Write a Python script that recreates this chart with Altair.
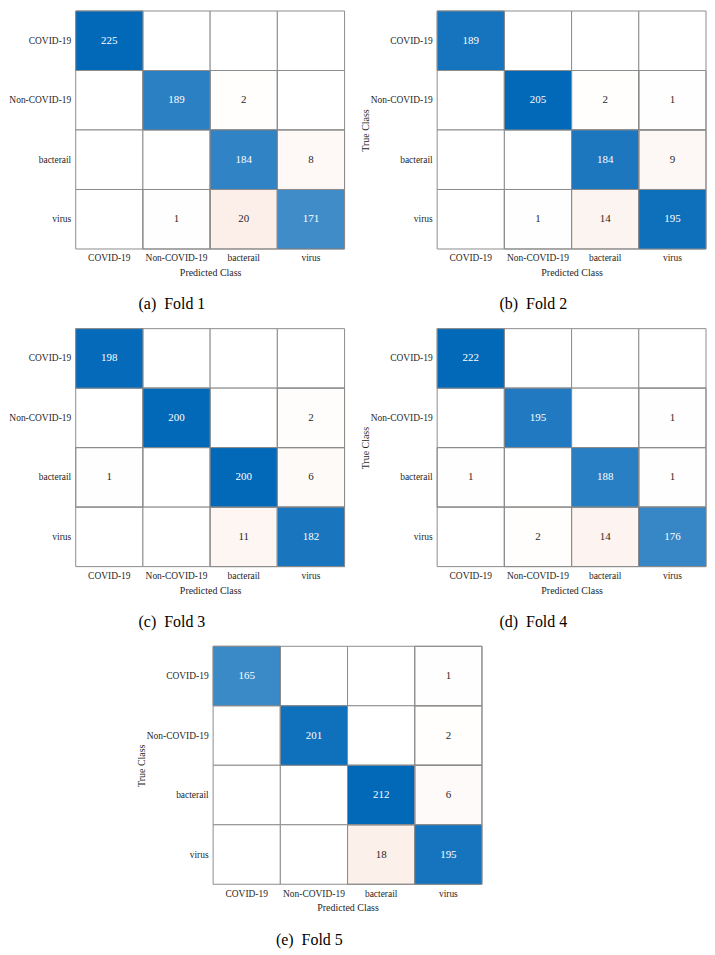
import altair as alt
import pandas as pd

classes = ["COVID-19", "Non-COVID-19", "bacterail", "virus"]

fold1 = [[225, 0, 0, 0], [0, 189, 2, 0], [0, 0, 184, 8], [0, 1, 20, 171]]
fold2 = [[189, 0, 0, 0], [0, 205, 2, 1], [0, 0, 184, 9], [0, 1, 14, 195]]
fold3 = [[198, 0, 0, 0], [0, 200, 0, 2], [1, 0, 200, 6], [0, 0, 11, 182]]
fold4 = [[222, 0, 0, 0], [0, 195, 0, 1], [1, 0, 188, 1], [0, 2, 14, 176]]
fold5 = [[165, 0, 0, 1], [0, 201, 0, 2], [0, 0, 212, 6], [0, 0, 18, 195]]

captions = ["(a)\u2002Fold 1", "(b)\u2002Fold 2", "(c)\u2002Fold 3", "(d)\u2002Fold 4", "(e)\u2002Fold 5"]

DIAG = "#0268B8"
OFF = "#D95319"
GRID = "#8c8c8c"
SERIF = "Liberation Serif"
W, H = 270, 239


def panel(mat, caption):
    rows = []
    for i, t in enumerate(classes):
        for j, p in enumerate(classes):
            rows.append({"true": t, "pred": p, "value": mat[i][j],
                         "kind": "diag" if i == j else "off"})
    df = pd.DataFrame(rows)
    base = alt.Chart(df)
    x = alt.X("pred:N", sort=classes,
              scale=alt.Scale(paddingInner=0, paddingOuter=0),
              axis=alt.Axis(title="Predicted Class", labelAngle=0))
    y = alt.Y("true:N", sort=classes,
              scale=alt.Scale(paddingInner=0, paddingOuter=0),
              axis=alt.Axis(title="True Class"))
    grid = base.mark_rect(fill="white", stroke=GRID, strokeWidth=1).encode(x=x, y=y)
    filled = (
        base.transform_filter("datum.value > 0")
        .transform_joinaggregate(mx="max(value)")
        .transform_calculate(r="datum.value / datum.mx")
        .mark_rect(stroke=GRID, strokeWidth=1)
        .encode(
            x=x, y=y,
            color=alt.Color("kind:N", scale=alt.Scale(domain=["diag", "off"], range=[DIAG, OFF]), legend=None),
            fillOpacity=alt.FillOpacity("r:Q", scale=None),
        )
    )
    text = (
        base.transform_filter("datum.value > 0")
        .mark_text(font=SERIF, fontSize=11)
        .encode(
            x=x, y=y, text="value:Q",
            color=alt.condition("datum.kind == 'diag'", alt.value("white"), alt.value("#262626")),
        )
    )
    return alt.layer(grid, filled, text).properties(
        width=W, height=H,
        title=alt.TitleParams(caption, orient="bottom", anchor="middle", frame="bounds",
                              offset=19, font=SERIF, fontSize=16, fontWeight="normal", color="black"),
    )


pa = panel(fold1, captions[0])
pb = panel(fold2, captions[1])
pc = panel(fold3, captions[2])
pd_ = panel(fold4, captions[3])
pe = panel(fold5, captions[4])

spacer = alt.Chart(pd.DataFrame({"v": [0]})).mark_rect(opacity=0).encode(
    x=alt.value(0), x2=alt.value(45), y=alt.value(0), y2=alt.value(1)
).properties(width=45, height=1)

row1 = alt.hconcat(pa, pb, spacing=14)
row2 = alt.hconcat(pc, pd_, spacing=14)
row3 = alt.hconcat(spacer, pe, spacing=15)

chart = (
    alt.vconcat(row1, row2, row3, spacing=15)
    .properties(padding={"left": -10, "top": 0, "right": 0, "bottom": 0})
    .configure_view(stroke=None)
    .configure_axis(domain=False, ticks=False, labelPadding=5, labelFont=SERIF, labelFontSize=9.5,
                    labelColor="#262626", titleFont=SERIF, titleFontSize=10, titleFontWeight="normal",
                    titleColor="#262626", titlePadding=0)
    .configure_axisX(labelPadding=4, titlePadding=5)
)

chart.save("out.html", embed_options={"renderer": "svg", "actions": False})
